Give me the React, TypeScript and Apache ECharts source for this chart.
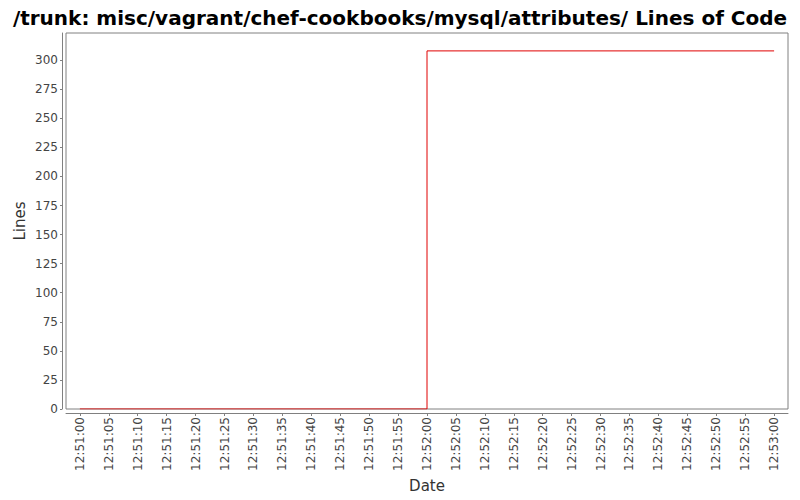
import { useEffect, useRef } from 'react'
import * as echarts from 'echarts'

const times = ['12:51:00', '12:52:00', '12:53:00']
const lines = [0, 308, 308]
const tickLabels = [
  '12:51:00', '12:51:05', '12:51:10', '12:51:15', '12:51:20', '12:51:25', '12:51:30',
  '12:51:35', '12:51:40', '12:51:45', '12:51:50', '12:51:55', '12:52:00', '12:52:05',
  '12:52:10', '12:52:15', '12:52:20', '12:52:25', '12:52:30', '12:52:35', '12:52:40',
  '12:52:45', '12:52:50', '12:52:55', '12:53:00',
]

const title = '/trunk: misc/vagrant/chef-cookbooks/mysql/attributes/ Lines of Code'
const font = 'DejaVu Sans'

// seconds since first sample
const toSec = (s: string) => {
  const [h, m, sec] = s.split(':').map(Number)
  const [h0, m0, s0] = times[0].split(':').map(Number)
  return (h - h0) * 3600 + (m - m0) * 60 + (sec - s0)
}

const tickValues = tickLabels.map(toSec)
const labelFor = new Map(tickValues.map((v, i) => [v, tickLabels[i]]))

export default function App() {
  const elRef = useRef<HTMLDivElement | null>(null)

  useEffect(() => {
    if (!elRef.current) return
    const chart = echarts.init(elRef.current, undefined, { renderer: 'svg' })
    const span = toSec(times[times.length - 1])
    const pad = span * 0.02
    const yMax = Math.max(...lines) * 1.05

    chart.setOption({
      animation: false,
      backgroundColor: '#ffffff',
      textStyle: { fontFamily: font },
      title: {
        text: title,
        left: 'center',
        top: 3,
        textStyle: { fontFamily: font, fontSize: 20, fontWeight: 'bold', color: '#000' },
      },
      grid: {
        left: 66, right: 12, top: 33, bottom: 91,
        show: true, borderColor: '#808080', borderWidth: 1,
        outerBoundsMode: 'none',
        containLabel: false,
      },
      xAxis: {
        type: 'value',
        min: -pad,
        max: span + pad,
        offset: 4,
        name: 'Date',
        nameLocation: 'middle',
        nameGap: 65,
        nameMoveOverlap: false,
        nameTextStyle: { fontFamily: font, fontSize: 15, color: '#333' },
        axisLine: { show: true, onZero: false, lineStyle: { color: '#808080' } },
        axisTick: { show: true, length: 3, customValues: tickValues, lineStyle: { color: '#808080' } },
        axisLabel: {
          customValues: tickValues,
          rotate: 90,
          margin: 4,
          fontSize: 12,
          color: '#444',
          fontFamily: font,
          formatter: (v: number) => labelFor.get(v) ?? '',
        },
        splitLine: { show: false },
      },
      yAxis: {
        type: 'value',
        min: 0,
        max: yMax,
        interval: 25,
        offset: 4,
        name: 'Lines',
        nameLocation: 'middle',
        nameGap: 35,
        nameMoveOverlap: false,
        nameTextStyle: { fontFamily: font, fontSize: 15, color: '#333' },
        axisLine: { show: true, onZero: false, lineStyle: { color: '#808080' } },
        axisTick: { show: true, length: 2, lineStyle: { color: '#808080' } },
        axisLabel: {
          margin: 4,
          fontSize: 12,
          color: '#444',
          fontFamily: font,
          showMaxLabel: false,
          formatter: (v: number) => (v % 25 === 0 ? String(v) : ''),
        },
        splitLine: { show: false },
      },
      series: [
        {
          type: 'line',
          step: 'end',
          data: times.map((t, i) => [toSec(t), lines[i]]),
          showSymbol: false,
          lineStyle: { color: '#e00000', width: 1 },
        },
      ],
    })

    return () => chart.dispose()
  }, [])

  return <div ref={elRef} style={{ width: 800, height: 500, margin: -8 }} />
}
